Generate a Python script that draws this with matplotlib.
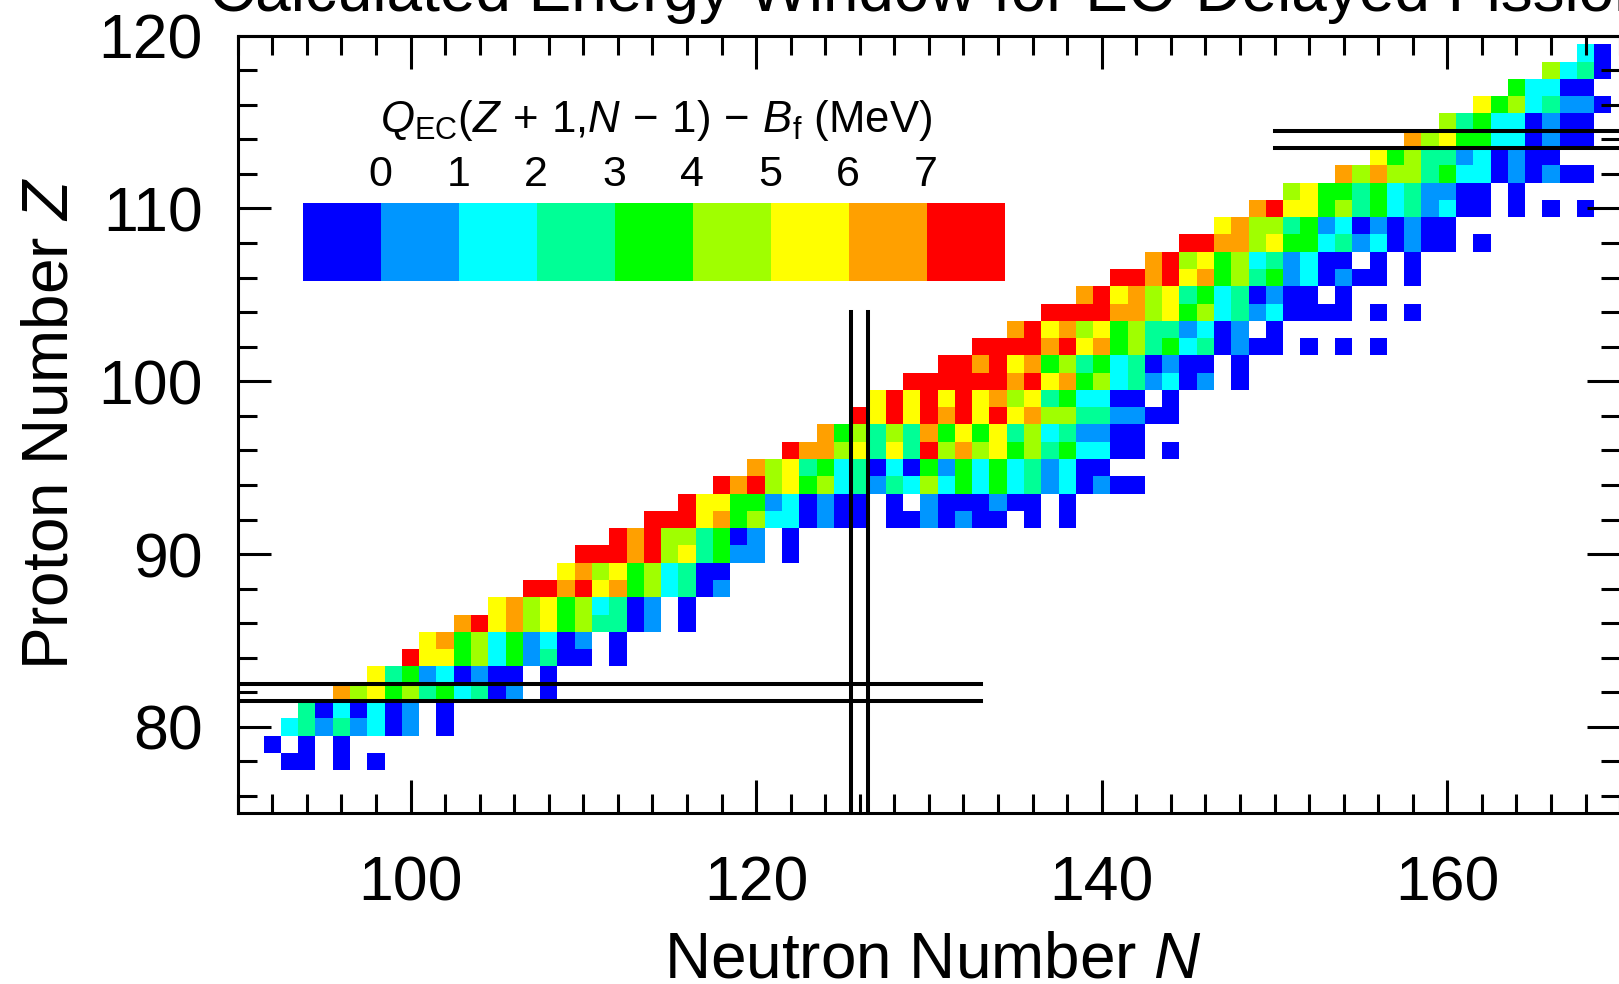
import numpy as np
import matplotlib
matplotlib.use("Agg")
import matplotlib.pyplot as plt
from matplotlib.colors import ListedColormap, BoundaryNorm
from matplotlib.ticker import MultipleLocator

plt.rcParams['font.family'] = 'Liberation Sans'
plt.rcParams['mathtext.fontset'] = 'custom'
plt.rcParams['mathtext.rm'] = 'Liberation Sans'
plt.rcParams['mathtext.it'] = 'Liberation Sans:italic'
plt.rcParams['mathtext.bf'] = 'Liberation Sans:bold'

# energy window Q_EC(Z+1,N-1) - B_f binned in MeV:
# bin 0 = below 0, bin 1 = 0..1, ..., bin 7 = 6..7, bin 8 = above 7, '.' = no value
bin_colors = ['#0000ff', '#0096ff', '#00ffff', '#00ff96', '#00ff00',
              '#a0ff00', '#ffff00', '#ffa000', '#ff0000']
bin_edges_mev = [0, 1, 2, 3, 4, 5, 6, 7]

# one row per proton number Z: first neutron number and bins along N
z_rows = list(range(78, 120))
n_first = [93, 92, 93, 94, 96, 98, 100, 101, 103, 105, 107, 109, 110, 112,
           114, 116, 118, 120, 122, 124, 126, 127, 129, 131, 133, 135, 137,
           139, 141, 143, 145, 147, 149, 151, 154, 156, 158, 160, 162, 164,
           166, 168]
row_bins = [
    "00.0.0",                       # 78
    "0.0.0",                        # 79
    "23131201.0",                   # 80
    "3020201.0",                    # 81
    "75645342301.0",                # 82
    "634120100.0",                  # 83
    "86645241300.0",                # 84
    "6745241201.0",                 # 85
    "786756453301.0",               # 86
    "6756452301.0",                 # 87
    "887867452301",                 # 88
    "6756452300",                   # 89
    "88878563411.0",                # 90
    "878553401.0",                  # 91
    "8886745220100.0010100.0.0",    # 92
    "86644120100.0.1000100.0",      # 93
    "8785645231325242423120100",    # 94
    "756342302041424231200",        # 95
    "877563638575645342200.0",      # 96
    "7453537464635231100",          # 97
    "8686878686755331100",          # 98
    "6868686756342200.0",           # 99
    "888888786745231201.0",         # 100
    "8878674534230100.0",           # 101
    "888878674534230100.0.0.0",     # 102
    "78675645331201.0",             # 103
    "888877564523120000.0.0",       # 104
    "78675634230100.0",             # 105
    "8878674534120100.0",           # 106
    "785645231200.0.0",             # 107
    "8877564423120100.0",           # 108
    "67553412010100",               # 109
    "78664534231200.0.0.0",         # 110
    "564434231100.0",               # 111
    "757553422010100",              # 112
    "64533120100",                  # 113
    "75644220100",                  # 114
    "534220100",                    # 115
    "64523110",                     # 116
    "42200",                        # 117
    "5230",                         # 118
    "20",                           # 119
]

# shell closures marked with double lines: (magic number, start, end)
magic_z = [(82, 90, 133), (114, 150, 170)]
magic_n = [(126, 75, 104)]

n_lim = (90, 170)
z_lim = (75, 120)

title = "Calculated Energy Window for EC-Delayed Fission"
cbar_title = (r"$Q_{\mathrm{EC}}(Z\,+\,1{,}N\,-\,1)\,-\,B_{\mathrm{f}}$"
              " (MeV)")

# grid of bins
n_vals = np.arange(n_lim[0], n_lim[1] + 1)
z_vals = np.arange(z_lim[0], z_lim[1] + 1)
grid = np.full((len(z_vals), len(n_vals)), np.nan)
for z, n0, s in zip(z_rows, n_first, row_bins):
    for i, ch in enumerate(s):
        if ch != '.':
            grid[z - z_lim[0], n0 + i - n_lim[0]] = int(ch)
grid = np.ma.masked_invalid(grid)

cmap = ListedColormap(bin_colors)
norm = BoundaryNorm(np.arange(-0.5, 9.5, 1), cmap.N)

W, H = 1619, 984
fig = plt.figure(figsize=(W / 100, H / 100), dpi=100)
ax = fig.add_axes([237.7 / W, (H - 813.3) / H, 1382.4 / W, 777.6 / H])

ax.pcolormesh(np.append(n_vals, n_vals[-1] + 1) - 0.5,
              np.append(z_vals, z_vals[-1] + 1) - 0.5,
              grid, cmap=cmap, norm=norm)

for z, a, b in magic_z:
    for d in (-0.5, 0.5):
        ax.plot([a, b], [z + d, z + d], color='black', lw=2.9)
for n, a, b in magic_n:
    for d in (-0.5, 0.5):
        ax.plot([n + d, n + d], [a, b], color='black', lw=2.9)

ax.set_xlim(*n_lim)
ax.set_ylim(*z_lim)
ax.set_xticks([100, 120, 140, 160])
ax.set_yticks([80, 90, 100, 110, 120])
ax.xaxis.set_minor_locator(MultipleLocator(2))
ax.yaxis.set_minor_locator(MultipleLocator(2))
ax.tick_params(which='both', direction='in', top=True, right=True,
               width=2.2, labelsize=45)
ax.tick_params(which='major', length=24)
ax.tick_params(which='minor', length=14)
ax.tick_params(axis='x', pad=30)
ax.tick_params(axis='y', pad=25)
for sp in ax.spines.values():
    sp.set_linewidth(2.2)

fig.text(933 / W, 1 - 977 / H, "Neutron Number $N$", fontsize=46,
         ha='center', va='baseline')
fig.text(67 / W, 1 - 423 / H, "Proton Number $Z$", fontsize=46,
         rotation=90, rotation_mode='anchor', ha='center', va='baseline')
fig.text((237.7 + 1382.4 / 2) / W, 1 - 11 / H, title, fontsize=46,
         ha='center', va='baseline')

# colour key
cb_left, cb_w = 302.5 / W, 701 / W
cax = fig.add_axes([cb_left, (H - 280.8) / H, cb_w, 77.4 / H])
cax.imshow(np.arange(len(bin_colors))[None, :], cmap=cmap, norm=norm,
           aspect='auto', interpolation='nearest')
cax.axis('off')
for k, e in enumerate(bin_edges_mev):
    fig.text(cb_left + cb_w * (k + 1) / len(bin_colors), 1 - 186 / H,
             str(e), fontsize=31, ha='center', va='baseline')
fig.text(cb_left + cb_w / 2 + 3 / W, 1 - 132 / H, cbar_title, fontsize=31.5,
         ha='center', va='baseline')

fig.savefig("out.png", dpi=100)
